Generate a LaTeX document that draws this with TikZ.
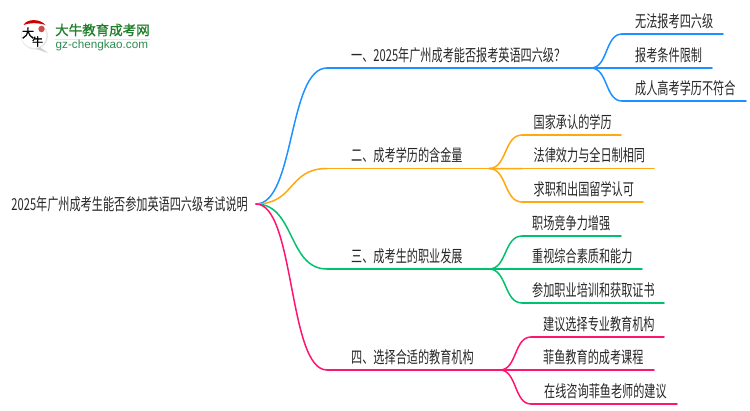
\documentclass[tikz,border=0pt]{standalone}
\usepackage{fontspec}
\setmainfont[FakeStretch=0.675]{Noto Sans CJK SC}
\newfontfamily\logofont[FakeBold=1.2]{Noto Sans CJK SC}
\newfontfamily\logolat{Liberation Sans}
\usetikzlibrary{calc}
\definecolor{cblue}{HTML}{1E90FF}
\definecolor{corange}{HTML}{FFA80F}
\definecolor{cgreen}{HTML}{00C26E}
\definecolor{cpink}{HTML}{FF1470}
\definecolor{ctext}{HTML}{262626}
\definecolor{lgreen}{HTML}{1F7F2A}
\definecolor{lurl}{HTML}{2E8B50}
\tikzset{
  lab/.style={anchor=base west,inner sep=0pt,text=ctext,font=\fontsize{16.5}{16.5}\selectfont},
  wire/.style={line width=1.5pt,line cap=round},
}
\newcommand{\scurve}[3]{\draw[wire,#1] (#2) .. controls ($(#2)!.55!(#3|-#2)$) and ($(#3)!.55!(#2|-#3)$) .. (#3);}
\begin{document}
\begin{tikzpicture}[x=1pt,y=-1pt]
\useasboundingbox (0,0) rectangle (750,410);
% logo
\fill[gray!18] (34.5,36) circle (13.5);
\fill[gray!35] (40,47) -- (48,53) -- (36,49) -- cycle;
\fill[white] (34,35.5) circle (12.5);
\fill[red!80!black] (23.5,25) .. controls (27,18.5) and (40,18.5) .. (45.5,25) .. controls (38,22.5) and (30,22.5) .. (23.5,25) -- cycle;
\fill[red!70!black!70] (41.5,29) circle (3.2);
\node[inner sep=0pt,font=\logofont\fontsize{12}{12}\selectfont,text=black] (logoa) at (28,33) {大};
\node[inner sep=0pt,font=\logofont\fontsize{11}{11}\selectfont,text=black] (logob) at (37.5,41.5) {牛};
\node[anchor=west,inner sep=0pt,text=lgreen,font=\logofont\fontsize{13.5}{13.5}\selectfont] (logot) at (55,30) {大牛教育成考网};
\fill[green!30!black!12] (54.5,38.5) rectangle (150,39.5);
\node[anchor=west,inner sep=0pt,text=lurl,font=\logolat\fontsize{11.7}{11.7}\selectfont] (logou) at (55.5,45.5) {gz-chengkao.com};
% root
\node[anchor=east,inner xsep=8pt,inner ysep=0pt,text=ctext,font=\fontsize{16.5}{16.5}\selectfont] (root) at (256,204) {2025年广州成考生能否参加英语四六级考试说明};
% branch coordinates
\coordinate (b1) at (327,68);  \coordinate (b1e) at (591,68);
\coordinate (b2) at (327,168.5); \coordinate (b2e) at (489,168.5);
\coordinate (b3) at (327,269); \coordinate (b3e) at (489,269);
\coordinate (b4) at (327,370); \coordinate (b4e) at (500,370);
\scurve{cblue}{root.east}{b1}
\scurve{corange}{root.east}{b2}
\scurve{cgreen}{root.east}{b3}
\scurve{cpink}{root.east}{b4}
\draw[wire,cblue] (b1) -- (b1e);
\draw[wire,corange] (b2) -- (b2e);
\draw[wire,cgreen] (b3) -- (b3e);
\draw[wire,cpink] (b4) -- (b4e);
% branch labels
\node[lab] (t1) at (351,61) {一、2025年广州成考能否报考英语四六级？};
\node[lab] (t2) at (351,161.5) {二、成考学历的含金量};
\node[lab] (t3) at (351,262) {三、成考生的职业发展};
\node[lab] (t4) at (351,363) {四、选择合适的教育机构};
% leaf helper coordinates
\coordinate (l11) at (622,34);  \coordinate (l11e) at (723,34);
\coordinate (l12) at (622,68);  \coordinate (l12e) at (712,68);
\coordinate (l13) at (622,101); \coordinate (l13e) at (746,101);
\coordinate (l21) at (522,135); \coordinate (l21e) at (621,135);
\coordinate (l22) at (522,168.5); \coordinate (l22e) at (654,168.5);
\coordinate (l23) at (522,202); \coordinate (l23e) at (643,202);
\coordinate (l31) at (522,236); \coordinate (l31e) at (621,236);
\coordinate (l32) at (522,269); \coordinate (l32e) at (642,269);
\coordinate (l33) at (522,303); \coordinate (l33e) at (664,303);
\coordinate (l41) at (531,337); \coordinate (l41e) at (664,337);
\coordinate (l42) at (531,370); \coordinate (l42e) at (654,370);
\coordinate (l43) at (531,404); \coordinate (l43e) at (677,404);
\foreach \a/\b/\c in {b1e/l11/cblue,b1e/l12/cblue,b1e/l13/cblue,b2e/l21/corange,b2e/l22/corange,b2e/l23/corange,b3e/l31/cgreen,b3e/l32/cgreen,b3e/l33/cgreen,b4e/l41/cpink,b4e/l42/cpink,b4e/l43/cpink}{
  \scurve{\c}{\a}{\b}
  \draw[wire,\c] (\b) -- (\b e);
}
% leaves
\node[lab] (n11) at (635,27) {无法报考四六级};
\node[lab] (n12) at (635,61) {报考条件限制};
\node[lab] (n13) at (635,94) {成人高考学历不符合};
\node[lab] (n21) at (533.5,128) {国家承认的学历};
\node[lab] (n22) at (533.5,161.5) {法律效力与全日制相同};
\node[lab] (n23) at (533.5,195) {求职和出国留学认可};
\node[lab] (n31) at (532,229) {职场竞争力增强};
\node[lab] (n32) at (532,262) {重视综合素质和能力};
\node[lab] (n33) at (532,296) {参加职业培训和获取证书};
\node[lab] (n41) at (543,330) {建议选择专业教育机构};
\node[lab] (n42) at (543,363) {菲鱼教育的成考课程};
\node[lab] (n43) at (544,397) {在线咨询菲鱼老师的建议};
\end{tikzpicture}
\end{document}
